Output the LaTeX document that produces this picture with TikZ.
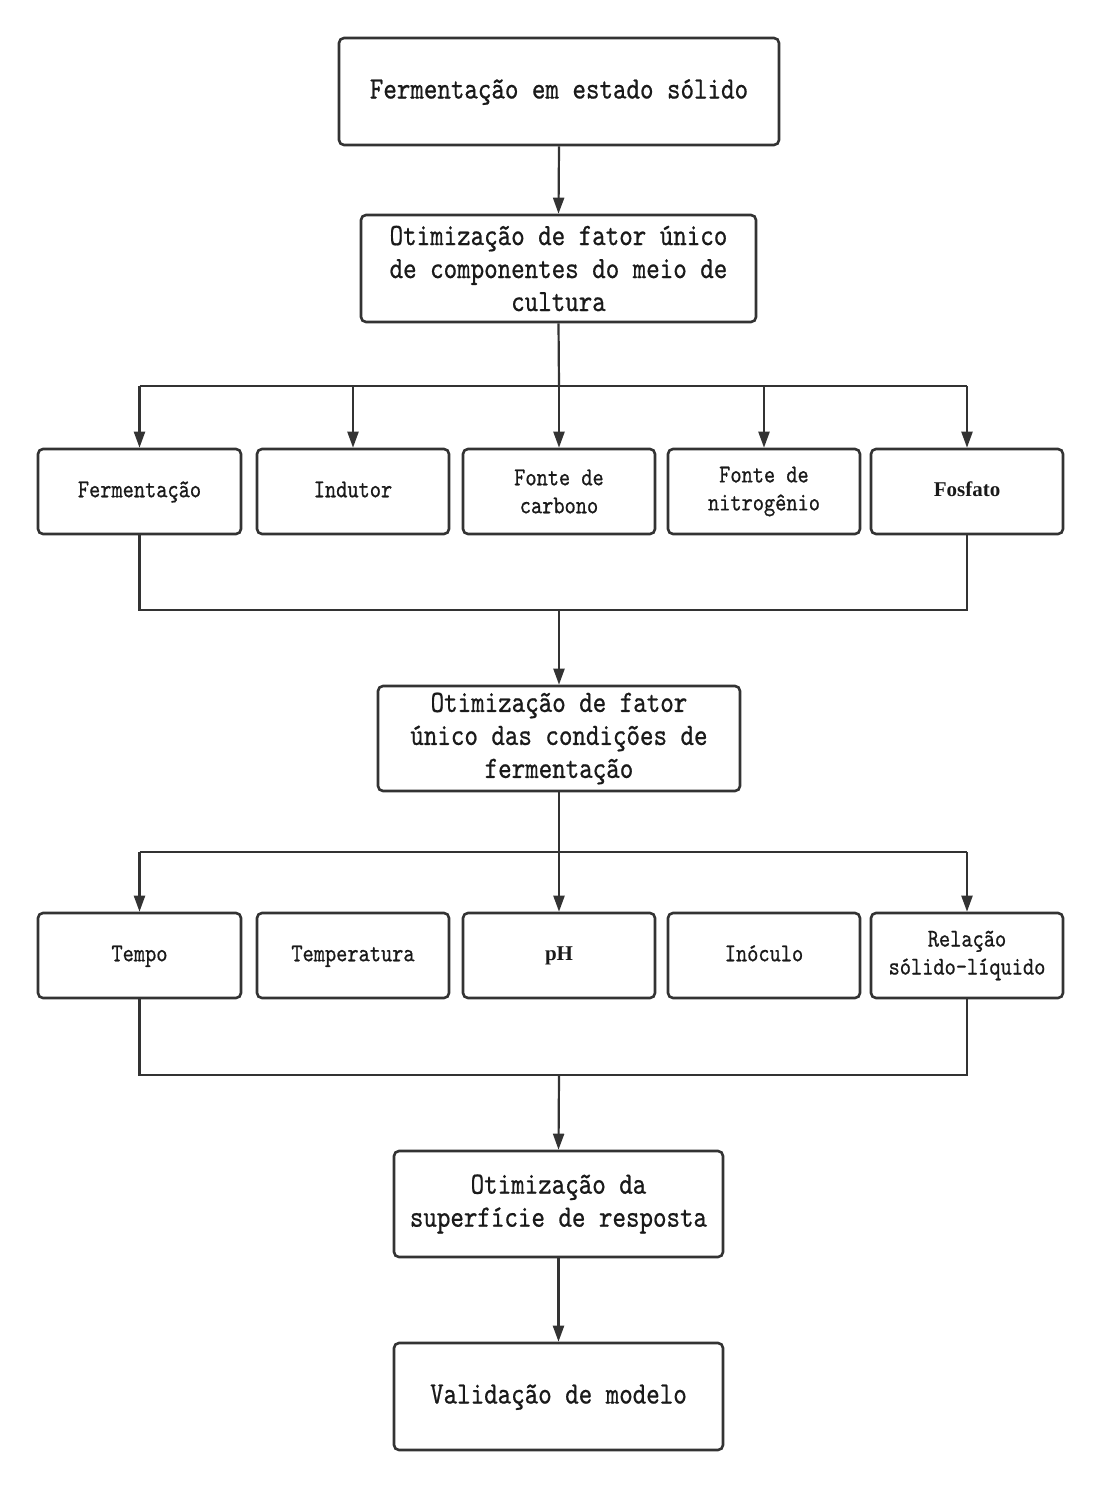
\documentclass[tikz,border=0pt]{standalone}
\usepackage{fontspec}
\usetikzlibrary{arrows.meta}
\newfontfamily\mainmono[FakeStretch=0.83,FakeBold=0.6]{lmmono10-regular.otf}
\newfontfamily\tmsbold{Liberation Serif}
\definecolor{ink}{HTML}{333333}
\definecolor{txt}{HTML}{1A1A1A}
\begin{document}
\begin{tikzpicture}[x=1pt,y=-1pt,
  bigbox/.style={draw=ink, line width=2.6pt, rounded corners=5pt, fill=white,
    align=center, text=txt, inner sep=0pt,
    font=\mainmono\fontsize{31}{33}\selectfont},
  oneline/.style={text height=22pt, text depth=8pt},
  smallbox/.style={draw=ink, line width=2.6pt, rounded corners=5pt, fill=white,
    align=center, text=txt, inner sep=0pt, minimum height=85pt,
    font=\mainmono\fontsize{25.7}{28}\selectfont},
  smallone/.style={text height=18pt, text depth=6.5pt},
  boldtxt/.style={font=\tmsbold\bfseries\fontsize{21}{24}\selectfont, text height=15pt, text depth=5pt},
  link/.style={draw=ink, line width=2.2pt},
  arrowlink/.style={draw=ink, line width=2.2pt, -{Triangle[length=16pt,width=11pt]}}
]
\useasboundingbox (0,0) rectangle (1101,1488);

% main boxes
\node[bigbox, oneline, minimum width=440pt, minimum height=107pt] (top) at (559,91.5) {Fermentação em estado sólido};
\node[bigbox, minimum width=395pt, minimum height=107pt] (b2) at (558.5,268.5) {Otimização de fator único\\de componentes do meio de\\cultura};
\node[bigbox, minimum width=362pt, minimum height=105pt] (b3) at (559,738.5) {Otimização de fator\\único das condições de\\fermentação};
\node[bigbox, minimum width=329pt, minimum height=106pt] (b4) at (558.5,1204) {Otimização da\\superfície de resposta};
\node[bigbox, oneline, minimum width=329pt, minimum height=107pt] (b5) at (558.5,1396.5) {Validação de modelo};

% row 1
\node[smallbox, smallone, minimum width=203pt] (r1a) at (139.5,491.5) {Fermentação};
\node[smallbox, smallone, minimum width=192pt] (r1b) at (353,491.5) {Indutor};
\node[smallbox, minimum width=192pt] (r1c) at (559,491.5) {Fonte de\\carbono};
\node[smallbox, minimum width=192pt] (r1d) at (764,491.5) {Fonte de\\nitrogênio};
\node[smallbox, boldtxt, minimum width=192pt] (r1e) at (967,491.5) {Fosfato};

% row 2
\node[smallbox, smallone, minimum width=203pt] (r2a) at (139.5,955.5) {Tempo};
\node[smallbox, smallone, minimum width=192pt] (r2b) at (353,955.5) {Temperatura};
\node[smallbox, boldtxt, minimum width=192pt] (r2c) at (559,955.5) {pH};
\node[smallbox, smallone, minimum width=192pt] (r2d) at (764,955.5) {Inóculo};
\node[smallbox, minimum width=192pt] (r2e) at (967,955.5) {Relação\\sólido-líquido};

% bus coordinates
\coordinate (bus1) at (559,386);
\coordinate (bus2) at (559,610);
\coordinate (bus3) at (559,852);
\coordinate (bus4) at (559,1075);

% connectors
\draw[arrowlink] (top.south) -- (b2.north);
\draw[link] (b2.south) -- (bus1);
\draw[link] (r1a.north |- bus1) -- (r1e.north |- bus1);
\foreach \n in {r1a,r1b,r1c,r1d,r1e}
  \draw[arrowlink] (\n.north |- bus1) -- (\n.north);
\draw[link] (r1a.south) |- (bus2) -| (r1e.south);
\draw[arrowlink] (bus2) -- (b3.north);

\draw[link] (b3.south) -- (bus3);
\draw[link] (r2a.north |- bus3) -- (r2e.north |- bus3);
\foreach \n in {r2a,r2c,r2e}
  \draw[arrowlink] (\n.north |- bus3) -- (\n.north);
\draw[link] (r2a.south) |- (bus4) -| (r2e.south);
\draw[arrowlink] (bus4) -- (b4.north);
\draw[arrowlink] (b4.south) -- (b5.north);
\end{tikzpicture}
\end{document}
